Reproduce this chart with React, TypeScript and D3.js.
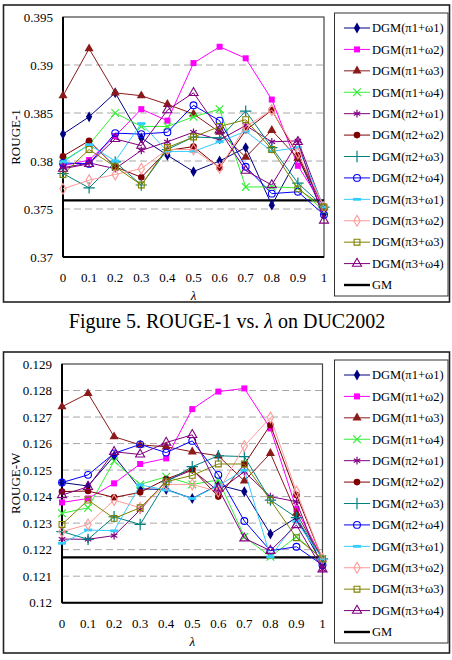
import React, { useEffect, useRef } from 'react'
import * as d3 from 'd3'

const lambdas = [0, 0.1, 0.2, 0.3, 0.4, 0.5, 0.6, 0.7, 0.8, 0.9, 1]
const lambdaTicks = ['0', '0.1', '0.2', '0.3', '0.4', '0.5', '0.6', '0.7', '0.8', '0.9', '1']
const seriesNames = [
  'DGM(π1+ω1)', 'DGM(π1+ω2)', 'DGM(π1+ω3)', 'DGM(π1+ω4)',
  'DGM(π2+ω1)', 'DGM(π2+ω2)', 'DGM(π2+ω3)', 'DGM(π2+ω4)',
  'DGM(π3+ω1)', 'DGM(π3+ω2)', 'DGM(π3+ω3)', 'DGM(π3+ω4)',
]
const baselineName = 'GM'

// ROUGE-1 on DUC2002
const r1P1W1 = [0.3828, 0.3846, 0.3871, 0.3824, 0.3806, 0.3789, 0.3800, 0.3814, 0.3754, 0.3804, 0.3745]
const r1P1W2 = [0.3795, 0.3801, 0.3826, 0.3854, 0.3842, 0.3902, 0.3919, 0.3907, 0.3864, 0.3795, 0.3752]
const r1P1W3 = [0.3868, 0.3917, 0.3871, 0.3868, 0.3859, 0.3849, 0.3830, 0.3804, 0.3832, 0.3803, 0.3752]
const r1P1W4 = [0.3800, 0.3817, 0.3850, 0.3836, 0.3836, 0.3846, 0.3854, 0.3773, 0.3773, 0.3772, 0.3748]
const r1P2W1 = [0.3793, 0.3798, 0.3792, 0.3811, 0.3820, 0.3830, 0.3822, 0.3837, 0.3820, 0.3821, 0.3750]
const r1P2W2 = [0.3805, 0.3821, 0.3794, 0.3783, 0.3811, 0.3815, 0.3793, 0.3832, 0.3853, 0.3806, 0.3752]
const r1P2W3 = [0.3787, 0.3772, 0.3799, 0.3775, 0.3812, 0.3825, 0.3824, 0.3852, 0.3814, 0.3777, 0.3752]
const r1P2W4 = [0.3798, 0.3797, 0.3829, 0.3828, 0.3830, 0.3858, 0.3842, 0.3794, 0.3766, 0.3768, 0.3744]
const r1P3W1 = [0.3799, 0.3817, 0.3800, 0.3839, 0.3810, 0.3810, 0.3820, 0.3831, 0.3810, 0.3814, 0.3752]
const r1P3W2 = [0.3771, 0.3780, 0.3786, 0.3792, 0.3812, 0.3812, 0.3793, 0.3836, 0.3853, 0.3808, 0.3752]
const r1P3W3 = [0.3786, 0.3812, 0.3794, 0.3775, 0.3814, 0.3825, 0.3836, 0.3843, 0.3812, 0.3771, 0.3752]
const r1P3W4 = [0.3792, 0.3797, 0.3823, 0.3816, 0.3853, 0.3871, 0.3832, 0.3790, 0.3775, 0.3820, 0.3738]
const r1GM = 0.3759
const r1Ticks = [0.37, 0.375, 0.38, 0.385, 0.39, 0.395]

// ROUGE-W
const rwP1W1 = [0.12453, 0.12440, 0.12553, 0.12429, 0.12427, 0.12393, 0.12444, 0.12419, 0.12259, 0.12321, 0.12145]
const rwP1W2 = [0.12378, 0.12393, 0.12450, 0.12523, 0.12544, 0.12730, 0.12796, 0.12808, 0.12657, 0.12353, 0.12165]
const rwP1W3 = [0.12739, 0.12789, 0.12626, 0.12595, 0.12588, 0.12569, 0.12554, 0.12459, 0.12563, 0.12337, 0.12165]
const rwP1W4 = [0.12337, 0.12358, 0.12534, 0.12446, 0.12475, 0.12446, 0.12463, 0.12249, 0.12173, 0.12249, 0.12165]
const rwP2W1 = [0.12240, 0.12239, 0.12253, 0.12350, 0.12460, 0.12500, 0.12421, 0.12494, 0.12400, 0.12381, 0.12126]
const rwP2W2 = [0.12419, 0.12421, 0.12397, 0.12416, 0.12466, 0.12503, 0.12400, 0.12522, 0.12670, 0.12406, 0.12165]
const rwP2W3 = [0.12268, 0.12239, 0.12324, 0.12295, 0.12455, 0.12513, 0.12554, 0.12551, 0.12387, 0.12321, 0.12165]
const rwP2W4 = [0.12453, 0.12482, 0.12563, 0.12597, 0.12566, 0.12610, 0.12482, 0.12308, 0.12196, 0.12211, 0.12142]
const rwP3W1 = [0.12224, 0.12274, 0.12271, 0.12444, 0.12425, 0.12393, 0.12441, 0.12500, 0.12173, 0.12306, 0.12165]
const rwP3W2 = [0.12268, 0.12295, 0.12387, 0.12358, 0.12446, 0.12446, 0.12419, 0.12591, 0.12698, 0.12419, 0.12165]
const rwP3W3 = [0.12295, 0.12387, 0.12318, 0.12358, 0.12456, 0.12480, 0.12523, 0.12523, 0.12387, 0.12245, 0.12165]
const rwP3W4 = [0.12406, 0.12437, 0.12569, 0.12559, 0.12604, 0.12633, 0.12431, 0.12243, 0.12196, 0.12293, 0.12126]
const rwGM = 0.12171
const rwTicks = [0.12, 0.121, 0.122, 0.123, 0.124, 0.125, 0.126, 0.127, 0.128, 0.129]

// line colour + marker for each DGM variant, same order as seriesNames
const styles = [
  { color: '#000080', marker: 'diamond' },
  { color: '#FF00FF', marker: 'square' },
  { color: '#8B1A1A', marker: 'triangle' },
  { color: '#33EE33', marker: 'x' },
  { color: '#800080', marker: 'asterisk' },
  { color: '#800000', marker: 'circle' },
  { color: '#008080', marker: 'plus' },
  { color: '#0000FF', marker: 'ocircle' },
  { color: '#33CCFF', marker: 'dash' },
  { color: '#FF9999', marker: 'odiamond' },
  { color: '#808000', marker: 'osquare' },
  { color: '#800080', marker: 'otriangle' },
]

const FONT = '"Liberation Serif", "Times New Roman", serif'

function drawMarker(g, style, x, y) {
  const c = style.color
  const sym = (type, size) => d3.symbol().type(type).size(size)()
  const t = `translate(${x},${y})`
  switch (style.marker) {
    case 'diamond':
      g.append('path').attr('d', sym(d3.symbolDiamond, 34)).attr('transform', t).attr('fill', c)
      break
    case 'square':
      g.append('path').attr('d', sym(d3.symbolSquare, 36)).attr('transform', t).attr('fill', c)
      break
    case 'triangle':
      g.append('path').attr('d', sym(d3.symbolTriangle, 36)).attr('transform', t).attr('fill', c)
      break
    case 'circle':
      g.append('circle').attr('cx', x).attr('cy', y).attr('r', 3.3).attr('fill', c)
      break
    case 'x':
      g.append('path').attr('d', sym(d3.symbolX, 40)).attr('transform', t).attr('stroke', c).attr('stroke-width', 1.2).attr('fill', 'none')
      break
    case 'asterisk':
      g.append('path').attr('d', sym(d3.symbolAsterisk, 40)).attr('transform', t).attr('stroke', c).attr('stroke-width', 1.2).attr('fill', 'none')
      break
    case 'plus':
      g.append('path').attr('d', sym(d3.symbolPlus, 44)).attr('transform', t).attr('stroke', c).attr('stroke-width', 1.2).attr('fill', 'none')
      break
    case 'dash':
      g.append('rect').attr('x', x - 4).attr('y', y - 1.4).attr('width', 8).attr('height', 2.8).attr('fill', c)
      break
    case 'ocircle':
      g.append('circle').attr('cx', x).attr('cy', y).attr('r', 3.4).attr('fill', 'none').attr('stroke', c).attr('stroke-width', 1.1)
      break
    case 'odiamond':
      g.append('path').attr('d', sym(d3.symbolDiamond, 34)).attr('transform', t).attr('fill', 'none').attr('stroke', c).attr('stroke-width', 1.1)
      break
    case 'osquare':
      g.append('path').attr('d', sym(d3.symbolSquare, 34)).attr('transform', t).attr('fill', 'none').attr('stroke', c).attr('stroke-width', 1.1)
      break
    case 'otriangle':
      g.append('path').attr('d', sym(d3.symbolTriangle, 36)).attr('transform', t).attr('fill', 'none').attr('stroke', c).attr('stroke-width', 1.1)
      break
  }
}

function LineChart({ frame, plot, legend, series, gm, ticks, yLabel }) {
  const ref = useRef(null)

  useEffect(() => {
    const g = d3.select(ref.current)
    g.selectAll('*').remove()

    const x = d3.scaleLinear().domain([0, 1]).range([plot.x0, plot.x1])
    const y = d3.scaleLinear().domain([ticks[0], ticks[ticks.length - 1]]).range([plot.y1, plot.y0])

    // outer chart frame
    g.append('rect')
      .attr('x', 3.5).attr('y', frame.y0)
      .attr('width', 446).attr('height', frame.y1 - frame.y0)
      .attr('fill', 'white').attr('stroke', '#222').attr('stroke-width', 1.6)

    // dashed gridlines
    ticks.slice(1, -1).forEach(v => {
      g.append('line')
        .attr('x1', plot.x0).attr('x2', plot.x1)
        .attr('y1', y(v)).attr('y2', y(v))
        .attr('stroke', '#A8A8A8').attr('stroke-width', 1)
        .attr('stroke-dasharray', '7,4')
    })

    // plot area border and axes
    g.append('rect')
      .attr('x', plot.x0).attr('y', plot.y0)
      .attr('width', plot.x1 - plot.x0).attr('height', plot.y1 - plot.y0)
      .attr('fill', 'none').attr('stroke', '#444').attr('stroke-width', 1.2)
    g.append('line')
      .attr('x1', plot.x0).attr('x2', plot.x0).attr('y1', plot.y0).attr('y2', plot.y1)
      .attr('stroke', 'black').attr('stroke-width', 2)
    g.append('line')
      .attr('x1', plot.x0).attr('x2', plot.x1).attr('y1', plot.y1).attr('y2', plot.y1)
      .attr('stroke', 'black').attr('stroke-width', 2)

    // y tick labels
    ticks.forEach(v => {
      g.append('text')
        .attr('x', plot.x0 - 10).attr('y', y(v) + 4.5)
        .attr('text-anchor', 'end')
        .attr('font-family', FONT).attr('font-size', 13)
        .text(String(+v.toFixed(3)))
    })

    // x tick labels
    lambdas.forEach((v, i) => {
      g.append('text')
        .attr('x', x(v)).attr('y', plot.y1 + 25)
        .attr('text-anchor', 'middle')
        .attr('font-family', FONT).attr('font-size', 13)
        .text(lambdaTicks[i])
    })

    g.append('text')
      .attr('x', (plot.x0 + plot.x1) / 2).attr('y', plot.y1 + 43)
      .attr('text-anchor', 'middle')
      .attr('font-family', FONT).attr('font-size', 13).attr('font-style', 'italic')
      .text('λ')

    g.append('text')
      .attr('transform', `translate(20,${(plot.y0 + plot.y1) / 2}) rotate(-90)`)
      .attr('text-anchor', 'middle')
      .attr('font-family', FONT).attr('font-size', 13)
      .text(yLabel)

    // baseline GM
    g.append('line')
      .attr('x1', x(0)).attr('x2', x(1))
      .attr('y1', y(gm)).attr('y2', y(gm))
      .attr('stroke', 'black').attr('stroke-width', 2.4)

    const line = d3.line().x((d, i) => x(lambdas[i])).y(d => y(d))

    series.forEach((vals, k) => {
      const st = styles[k]
      g.append('path')
        .attr('d', line(vals))
        .attr('fill', 'none').attr('stroke', st.color).attr('stroke-width', 1)
      vals.forEach((v, i) => drawMarker(g, st, x(lambdas[i]), y(v)))
    })

    // legend
    g.append('rect')
      .attr('x', 334.5).attr('y', legend.y0)
      .attr('width', 113.5).attr('height', legend.y1 - legend.y0)
      .attr('fill', 'white').attr('stroke', '#333').attr('stroke-width', 1)

    const step = (legend.y1 - legend.y0 - 26) / 12
    seriesNames.forEach((name, k) => {
      const ly = legend.y0 + 15 + k * step
      const st = styles[k]
      g.append('line')
        .attr('x1', 344).attr('x2', 370).attr('y1', ly).attr('y2', ly)
        .attr('stroke', st.color).attr('stroke-width', 1)
      drawMarker(g, st, 357, ly)
      g.append('text')
        .attr('x', 372).attr('y', ly + 4.3)
        .attr('font-family', FONT).attr('font-size', 12.5)
        .text(name)
    })
    const gy = legend.y0 + 15 + 12 * step
    g.append('line')
      .attr('x1', 344).attr('x2', 370).attr('y1', gy).attr('y2', gy)
      .attr('stroke', 'black').attr('stroke-width', 2.4)
    g.append('text')
      .attr('x', 372).attr('y', gy + 4.3)
      .attr('font-family', FONT).attr('font-size', 12.5)
      .text(baselineName)
  }, [])

  return <g ref={ref} />
}

export default function App() {
  const rouge1 = [r1P1W1, r1P1W2, r1P1W3, r1P1W4, r1P2W1, r1P2W2, r1P2W3, r1P2W4, r1P3W1, r1P3W2, r1P3W3, r1P3W4]
  const rougeW = [rwP1W1, rwP1W2, rwP1W3, rwP1W4, rwP2W1, rwP2W2, rwP2W3, rwP2W4, rwP3W1, rwP3W2, rwP3W3, rwP3W4]

  return (
    <div style={{ position: 'absolute', left: 0, top: 0 }}>
      <svg width={452} height={660} style={{ display: 'block', background: 'white' }}>
        <LineChart
          frame={{ y0: 5, y1: 302 }}
          plot={{ x0: 63, x1: 324, y0: 17, y1: 257 }}
          legend={{ y0: 13, y1: 296 }}
          series={rouge1}
          gm={r1GM}
          ticks={r1Ticks}
          yLabel="ROUGE-1"
        />
        <text x={227} y={328} textAnchor="middle" fontFamily={FONT} fontSize={20}>
          Figure 5. ROUGE-1 vs. <tspan fontStyle="italic">λ</tspan> on DUC2002
        </text>
        <LineChart
          frame={{ y0: 352, y1: 653 }}
          plot={{ x0: 62, x1: 322.5, y0: 364, y1: 602.7 }}
          legend={{ y0: 360, y1: 643 }}
          series={rougeW}
          gm={rwGM}
          ticks={rwTicks}
          yLabel="ROUGE-W"
        />
      </svg>
    </div>
  )
}
